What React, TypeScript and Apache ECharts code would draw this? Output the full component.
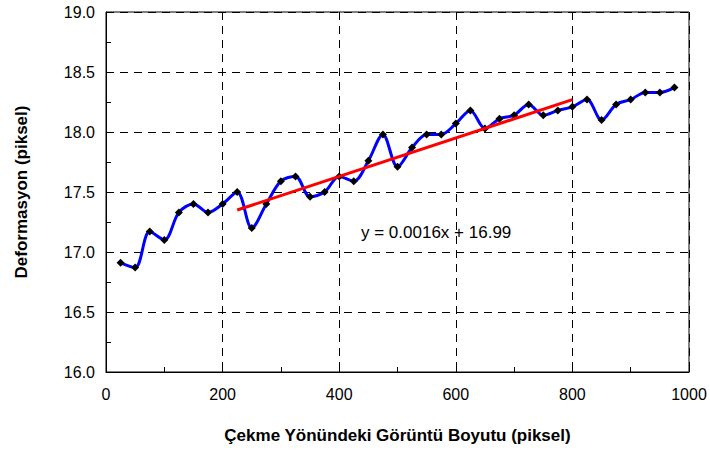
import React, { useEffect, useRef } from "react";
import * as echarts from "echarts";

const xValues = [25, 50, 75, 100, 125, 150, 175, 200, 225, 250, 275, 300, 325, 350, 375, 400, 425, 450, 475, 500, 525, 550, 575, 600, 625, 650, 675, 700, 725, 750, 775, 800, 825, 850, 875, 900, 925, 950, 975];
const deformation = [16.91, 16.87, 17.17, 17.10, 17.33, 17.40, 17.33, 17.40, 17.50, 17.20, 17.40, 17.59, 17.63, 17.46, 17.50, 17.63, 17.59, 17.76, 17.98, 17.71, 17.87, 17.98, 17.98, 18.07, 18.18, 18.03, 18.11, 18.14, 18.23, 18.14, 18.18, 18.21, 18.27, 18.10, 18.23, 18.27, 18.33, 18.33, 18.37];
const trendX = [225, 800];
const trendY = [17.35, 18.27];
const equationText = "y = 0.0016x + 16.99";
const xTitle = "Çekme Yönündeki Görüntü Boyutu (piksel)";
const yTitle = "Deformasyon (piksel)";

const FONT = "Arial, 'Liberation Sans', sans-serif";

export default function App() {
  const ref = useRef<HTMLDivElement>(null);
  useEffect(() => {
    document.body.style.margin = "0";
    const chart = echarts.init(ref.current!, null, { renderer: "svg" });
    const mainData = xValues.map((x, i) => [x, deformation[i]]);
    const trendData = trendX.map((x, i) => [x, trendY[i]]);
    chart.setOption({
      animation: false,
      backgroundColor: "#ffffff",
      textStyle: { fontFamily: FONT },
      grid: {
        left: 106,
        right: 21,
        top: 12,
        bottom: 78,
        show: true,
        borderColor: "#000",
        borderWidth: 1,
        backgroundColor: "transparent",
      },
      xAxis: {
        type: "value",
        min: 0,
        max: 1000,
        interval: 200,
        name: xTitle,
        nameLocation: "middle",
        nameGap: 55,
        nameTextStyle: { fontFamily: FONT, fontWeight: "bold", fontSize: 17, color: "#000" },
        axisLine: { show: true, lineStyle: { color: "#000", width: 1 } },
        axisTick: { show: true, inside: true, length: 5, lineStyle: { color: "#000" } },
        minorTick: { show: true, splitNumber: 2, length: 5, lineStyle: { color: "#000" } },
        axisLabel: {
          fontFamily: FONT,
          fontSize: 16,
          color: "#000",
          margin: 14,
          formatter: (v: number) => String(v),
        },
        splitLine: { show: true, lineStyle: { color: "#000", type: [8, 6], width: 1 } },
      },
      yAxis: {
        type: "value",
        min: 16,
        max: 19,
        interval: 0.5,
        name: yTitle,
        nameLocation: "middle",
        nameGap: 76,
        nameRotate: 90,
        nameTextStyle: { fontFamily: FONT, fontWeight: "bold", fontSize: 17, color: "#000" },
        axisLine: { show: true, lineStyle: { color: "#000", width: 1 } },
        axisTick: { show: true, inside: true, length: 5, lineStyle: { color: "#000" } },
        minorTick: { show: true, splitNumber: 2, length: 5, lineStyle: { color: "#000" } },
        axisLabel: {
          fontFamily: FONT,
          fontSize: 16,
          color: "#000",
          margin: 11,
          formatter: (v: number) => v.toFixed(1),
        },
        splitLine: { show: true, lineStyle: { color: "#000", type: [8, 6], width: 1 } },
      },
      series: [
        {
          type: "line",
          data: mainData,
          smooth: 0.33,
          lineStyle: { color: "#0000ff", width: 3 },
          itemStyle: { color: "#000" },
          symbol: "diamond",
          symbolSize: 8,
          z: 3,
        },
        {
          type: "line",
          data: trendData,
          symbol: "none",
          lineStyle: { color: "#ff0000", width: 3 },
          z: 4,
        },
      ],
      graphic: [
        {
          type: "text",
          x: 361,
          y: 232,
          style: {
            text: equationText,
            fontFamily: FONT,
            fontSize: 17,
            fill: "#000",
            textVerticalAlign: "middle",
            verticalAlign: "middle",
          },
          z: 10,
        },
      ],
    });
    return () => chart.dispose();
  }, []);
  return <div ref={ref} style={{ width: 710, height: 450 }} />;
}
